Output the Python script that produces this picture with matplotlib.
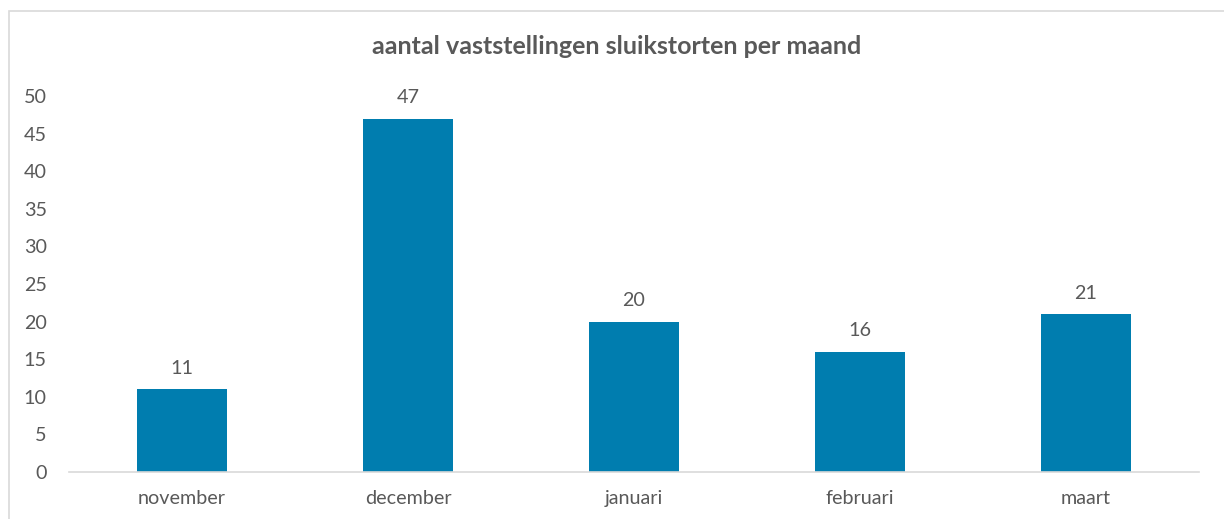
import matplotlib
matplotlib.use("Agg")
import matplotlib.pyplot as plt
from matplotlib.patches import Rectangle

maanden = ["november", "december", "januari", "februari", "maart"]
aantallen = [11, 47, 20, 16, 21]
yticks = [0, 5, 10, 15, 20, 25, 30, 35, 40, 45, 50]

plt.rcParams['font.family'] = ['Lato', 'DejaVu Sans']
tekstkleur = '#595959'
balkkleur = '#007daf'

fig = plt.figure(figsize=(12.24, 5.19), dpi=100)
ax = fig.add_axes([69/1224, 47/519, 1130/1224, 376/519])

x = range(len(maanden))
bars = ax.bar(x, aantallen, width=0.4, color=balkkleur)
ax.set_xlim(-0.5, len(maanden) - 0.5)
ax.set_ylim(0, 50)
ax.set_yticks(yticks)
ax.set_xticks(list(x))
ax.set_xticklabels(maanden)

for s in ['top', 'right', 'left']:
    ax.spines[s].set_visible(False)
ax.spines['bottom'].set_color('#d9d9d9')
ax.spines['bottom'].set_linewidth(1.2)
ax.tick_params(axis='both', length=0, labelsize=14.2, colors=tekstkleur)
ax.tick_params(axis='y', pad=16)
ax.tick_params(axis='x', pad=13)

for b, v in zip(bars, aantallen):
    ax.annotate(str(v), (b.get_x() + b.get_width() / 2, v), xytext=(0, 9),
                textcoords='offset points', ha='center', va='bottom',
                fontsize=14.2, color=tekstkleur)

fig.text(617/1224, 1 - 47/519, "aantal vaststellingen sluikstorten per maand",
         ha='center', va='center', fontsize=18, fontweight='bold', color=tekstkleur)

# rand rond de grafiek
fig.patches.append(Rectangle((9/1224, -0.1), 1.2, 1.1 - 11/519, transform=fig.transFigure,
                             fill=False, edgecolor='#d9d9d9', linewidth=1.2))

fig.savefig("out.png", dpi=100)
